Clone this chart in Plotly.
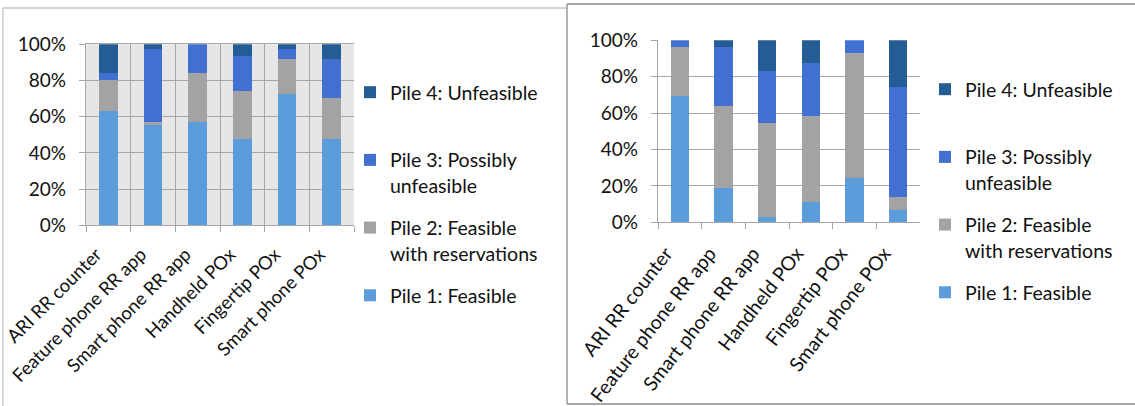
import plotly.graph_objects as go

# Devices assessed
categories = [
    "ARI RR counter",
    "Feature phone RR app",
    "Smart phone RR app",
    "Handheld POx",
    "Fingertip POx",
    "Smart phone POx",
]

# Legend labels (bottom of stack first)
pile_labels = [
    "Pile 1: Feasible",
    "Pile 2: Feasible<br>with reservations",
    "Pile 3: Possibly<br>unfeasible",
    "Pile 4: Unfeasible<br> ",
]

# Left panel: share of responses per pile (%)
left_pile1 = [63.2, 55.4, 57.1, 47.7, 72.6, 47.7]
left_pile2 = [17.1, 1.7, 27.1, 26.5, 19.3, 22.6]
left_pile3 = [3.9, 40.3, 15.8, 19.5, 5.5, 21.6]
left_pile4 = [15.8, 2.6, 0.0, 6.3, 2.6, 8.1]

# Right panel: share of responses per pile (%)
right_pile1 = [69.6, 19.0, 2.9, 11.4, 24.5, 6.8]
right_pile2 = [26.9, 44.9, 51.7, 47.0, 68.5, 7.1]
right_pile3 = [3.5, 32.4, 28.6, 29.1, 7.0, 60.5]
right_pile4 = [0.0, 3.7, 16.8, 12.5, 0.0, 25.6]

y_ticks = [0, 20, 40, 60, 80, 100]
y_tick_labels = ["0%", "20%", "40%", "60%", "80%", "100%"]

pile_colors = ["#5c9cdb", "#a3a3a3", "#4270d0", "#245d93"]

FONT = "Lato"
W, H = 1135, 406


def px_x(v):
    return v / W


def px_y(v):
    return 1 - v / H


fig = go.Figure()

left_series = [left_pile1, left_pile2, left_pile3, left_pile4]
right_series = [right_pile1, right_pile2, right_pile3, right_pile4]

for i, (label, vals, color) in enumerate(zip(pile_labels, left_series, pile_colors)):
    fig.add_trace(go.Bar(
        x=categories, y=vals, name=label, marker_color=color,
        marker_line_width=0, xaxis="x", yaxis="y",
        legend="legend", legendgroup=f"l{i}", legendrank=10 - i,
    ))

for i, (label, vals, color) in enumerate(zip(pile_labels, right_series, pile_colors)):
    fig.add_trace(go.Bar(
        x=categories, y=vals, name=label, marker_color=color,
        marker_line_width=0, xaxis="x2", yaxis="y2",
        legend="legend2", legendgroup=f"r{i}", legendrank=10 - i,
    ))

grid = "#a6a6a6"
text_color = "#111111"

common_y = dict(
    range=[0, 100], tickvals=y_ticks, ticktext=y_tick_labels, ticks="outside",
    ticklen=6, tickcolor=grid, tickwidth=1.3, gridcolor=grid, gridwidth=1.3,
    showline=True, linecolor=grid, linewidth=1.3,
    tickfont=dict(family=FONT, size=19, color=text_color),
    zeroline=False, fixedrange=True, automargin=False, ticklabelstandoff=9,
)
common_x = dict(
    type="category", tickson="boundaries", ticks="outside", ticklen=6,
    tickcolor=grid, tickwidth=1.3, showline=True, linecolor=grid,
    linewidth=1.3, fixedrange=True, automargin=False,
)

legend_common = dict(
    font=dict(family=FONT, size=19.5, color=text_color),
    traceorder="grouped", tracegroupgap=14, valign="top",
    bgcolor="rgba(0,0,0,0)", xanchor="left", yanchor="top",
)

fig.update_layout(
    width=W, height=H, autosize=False,
    margin=dict(l=0, r=0, t=0, b=0, autoexpand=False),
    paper_bgcolor="white", plot_bgcolor="white",
    barmode="stack", barnorm="percent", bargap=0.58,
    xaxis=dict(domain=[px_x(86), px_x(354)], anchor="y", showgrid=True,
               gridcolor=grid, gridwidth=1.3, mirror=True, tickangle=-45,
               tickfont=dict(family=FONT, size=18.5, color=text_color),
               ticklabelshift=-12, ticklabelstandoff=10, **common_x),
    yaxis=dict(domain=[px_y(225.3), px_y(44.3)], anchor="x", **common_y),
    xaxis2=dict(domain=[px_x(658), px_x(920)], anchor="y2", showgrid=False,
                tickangle=-52,
                tickfont=dict(family=FONT, size=19.5, color=text_color),
                ticklabelshift=-14, ticklabelstandoff=11, **common_x),
    yaxis2=dict(domain=[px_y(222.3), px_y(40.3)], anchor="x2", **common_y),
    legend=dict(x=px_x(350), y=px_y(73), **legend_common),
    legend2=dict(x=px_x(925), y=px_y(70), **legend_common),
    showlegend=True,
)

# grey plotting area of the left panel
fig.add_shape(type="rect", xref="x domain", yref="y domain", x0=0, x1=1, y0=0, y1=1,
              fillcolor="#e6e6e6", line_width=0, layer="below")

# chart frames
frame_l = "#c4c4c4"
frame_r = "#8c8c8c"
fig.add_shape(type="line", xref="paper", yref="paper", x0=px_x(3), x1=px_x(3),
              y0=px_y(8), y1=-0.05, line=dict(color=frame_l, width=1.3))
fig.add_shape(type="line", xref="paper", yref="paper", x0=px_x(3), x1=px_x(567),
              y0=px_y(8), y1=px_y(8), line=dict(color=frame_l, width=1.3))
fig.add_shape(type="line", xref="paper", yref="paper", x0=px_x(567), x1=px_x(567),
              y0=px_y(4), y1=px_y(404), line=dict(color=frame_r, width=1.3))
fig.add_shape(type="line", xref="paper", yref="paper", x0=px_x(567), x1=1.05,
              y0=px_y(4), y1=px_y(4), line=dict(color=frame_r, width=1.3))
fig.add_shape(type="line", xref="paper", yref="paper", x0=px_x(567), x1=1.05,
              y0=px_y(404), y1=px_y(404), line=dict(color=frame_r, width=1.3))

fig.write_html("out.html")
